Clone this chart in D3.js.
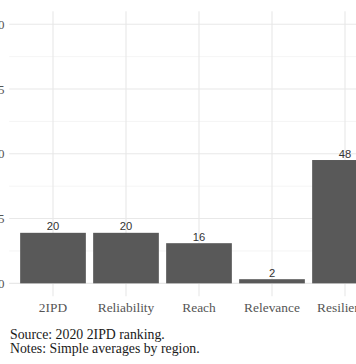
<!DOCTYPE html>
<html>
<head>
<meta charset="utf-8">
<script src="https://cdn.jsdelivr.net/npm/d3@7"></script>
<style>
  html, body { margin: 0; padding: 0; background: #fff; }
  svg { display: block; }
</style>
</head>
<body>
<svg id="chart" width="356" height="364"></svg>
<script>
const categories = ["2IPD", "Reliability", "Reach", "Relevance", "Resilience"];
const values = [19.5, 19.5, 15.5, 1.6, 47.6];
const valueLabels = ["20", "20", "16", "2", "48"];
const yTicks = [0, 25, 50, 75, 100];
const yMinorTicks = [12.5, 37.5, 62.5, 87.5];
const captionLines = ["Source: 2020 2IPD ranking.", "Notes: Simple averages by region."];

const svg = d3.select("#chart");
const panel = { left: 9.2, right: 388.8, top: 11.3, bottom: 296.3 };

const x = d3.scaleBand()
  .domain(categories)
  .range([panel.left, panel.right])
  .paddingInner(0.1)
  .paddingOuter(0.15);

const y = d3.scaleLinear()
  .domain([-5, 105])
  .range([panel.bottom, panel.top]);

const grid = svg.append("g");
grid.selectAll("line.minor").data(yMinorTicks).join("line")
  .attr("x1", panel.left).attr("x2", panel.right)
  .attr("y1", d => y(d)).attr("y2", d => y(d))
  .attr("stroke", "#ededed").attr("stroke-width", 0.6);
grid.selectAll("line.major").data(yTicks).join("line")
  .attr("x1", panel.left).attr("x2", panel.right)
  .attr("y1", d => y(d)).attr("y2", d => y(d))
  .attr("stroke", "#e8e8e8").attr("stroke-width", 1.1);
grid.selectAll("line.v").data(categories).join("line")
  .attr("x1", d => x(d) + x.bandwidth() / 2).attr("x2", d => x(d) + x.bandwidth() / 2)
  .attr("y1", panel.top).attr("y2", panel.bottom)
  .attr("stroke", "#e8e8e8").attr("stroke-width", 1.1);

svg.append("g").selectAll("rect").data(categories).join("rect")
  .attr("x", d => x(d))
  .attr("width", x.bandwidth())
  .attr("y", (d, i) => y(values[i]))
  .attr("height", (d, i) => y(0) - y(values[i]))
  .attr("fill", "#595959");

svg.append("g").selectAll("text").data(categories).join("text")
  .attr("x", d => x(d) + x.bandwidth() / 2)
  .attr("y", (d, i) => y(values[i]) - 2.4)
  .attr("text-anchor", "middle")
  .attr("font-family", "'Liberation Sans', Arial, sans-serif")
  .attr("font-size", "11.2px")
  .attr("fill", "#333")
  .text((d, i) => valueLabels[i]);

svg.append("g").selectAll("text").data(yTicks).join("text")
  .attr("x", 4.5)
  .attr("y", d => y(d))
  .attr("dy", "0.35em")
  .attr("text-anchor", "end")
  .attr("font-family", "'Liberation Serif', 'Times New Roman', serif")
  .attr("font-size", "13px")
  .attr("fill", "#555")
  .text(d => d);

svg.append("g").selectAll("text").data(categories).join("text")
  .attr("x", d => x(d) + x.bandwidth() / 2)
  .attr("y", 312.3)
  .attr("text-anchor", "middle")
  .attr("font-family", "'Liberation Serif', 'Times New Roman', serif")
  .attr("font-size", "13.4px")
  .attr("fill", "#555")
  .text(d => d);

svg.append("g").selectAll("text").data(captionLines).join("text")
  .attr("x", 10)
  .attr("y", (d, i) => 339 + i * 13.7)
  .attr("font-family", "'Liberation Serif', 'Times New Roman', serif")
  .attr("font-size", "13.8px")
  .attr("fill", "#1a1a1a")
  .text(d => d);
</script>
</body>
</html>
